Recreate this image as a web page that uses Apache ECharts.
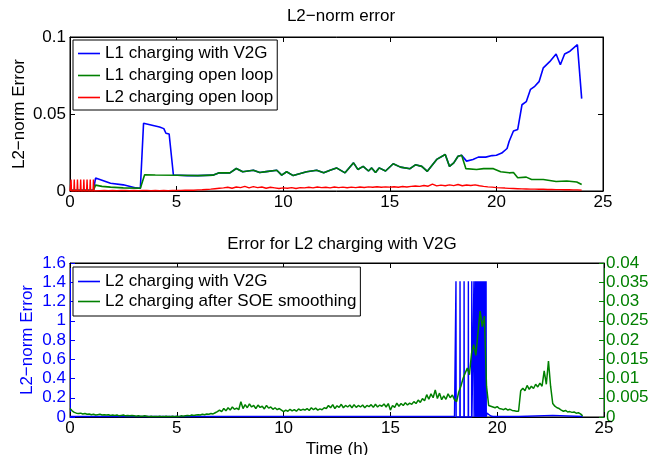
<!DOCTYPE html>
<html>
<head>
<meta charset="utf-8">
<script src="https://cdn.jsdelivr.net/npm/echarts@6/dist/echarts.min.js"></script>
<style>
html,body{margin:0;padding:0;background:#fff;}
#chart{width:661px;height:455px;}
</style>
</head>
<body>
<div id="chart"></div>
<script>
// ---- top panel: L2-norm error ----
let l1V2gT = [0,1.1,1.2,1.5,1.9,2.5,3.1,3.3,3.45,4.2, 4.4,4.5,4.65,4.85,5.5,6.0,6.7,7.0,7.5,7.8,
    8.1,8.6,8.9,9.2,9.7,9.93,10.16,10.47,11.1,11.57, 11.9,12.2,12.5,12.9,13.3,13.5,13.75,14.0,14.15,14.33,
    14.5,14.8,15.16,15.5,15.95,16.2,16.5,16.76,17.2,17.6, 17.8,18.0,18.2,18.37,18.6,18.9,19.15,19.5,19.8,20.0,
    20.25,20.5,20.6,20.8,21.0,21.2,21.4,21.6,21.8,22.0, 22.2,22.5,22.8,23.0,23.2,23.45,23.8,24.0];
let l1V2gV = [0.0005,0.0005,0.0084,0.007,0.005,0.004,0.002,0.0018,0.044,0.0416, 0.0405,0.0375,0.037,0.0104,0.010,0.010,0.0103,0.0118,0.0118,0.0146,
    0.0125,0.0135,0.012,0.0126,0.0135,0.0103,0.0125,0.010,0.0125,0.0135, 0.0118,0.0135,0.015,0.0118,0.0183,0.014,0.016,0.013,0.015,0.012,
    0.015,0.013,0.0177,0.0155,0.0145,0.017,0.016,0.0128,0.0205,0.0237, 0.016,0.0183,0.0226,0.0232,0.0194,0.0205,0.022,0.022,0.023,0.0232,
    0.0246,0.0276,0.0323,0.039,0.040,0.056,0.058,0.066,0.068,0.071, 0.080,0.084,0.089,0.082,0.089,0.0908,0.095,0.060];

let l1OpenT = [0,1.1,1.2,1.5,1.9,2.5,3.3,3.5,4.0,5.0, 6.0,6.7,7.0,7.5,7.8,8.1,8.6,8.9,9.2,9.7,
    9.93,10.16,10.47,11.1,11.57,11.9,12.2,12.5,12.9,13.3, 13.5,13.75,14.0,14.15,14.33,14.5,14.8,15.16,15.5,15.95,
    16.2,16.5,16.76,17.2,17.6,17.8,18.0,18.2,18.37,18.57, 19.07,19.4,19.86,20.2,20.6,20.8,21.0,21.4,21.65,22.2,
    22.8,23.3,23.77,24.0];
let l1OpenV = [0.0005,0.0005,0.0038,0.003,0.0025,0.002,0.0018,0.0106,0.0104,0.0102, 0.0100,0.0103,0.0118,0.0118,0.0146,0.0125,0.0135,0.012,0.0126,0.0135,
    0.0103,0.0125,0.010,0.0125,0.0135,0.0118,0.0135,0.015,0.0118,0.0183, 0.014,0.016,0.013,0.015,0.012,0.015,0.013,0.0177,0.0155,0.0145,
    0.017,0.016,0.0128,0.0205,0.0237,0.016,0.0183,0.0226,0.0232,0.0145, 0.014,0.0145,0.0145,0.0125,0.0118,0.012,0.0086,0.009,0.0075,0.0075,
    0.0062,0.0065,0.0058,0.0042];

// L2 open loop: early on/off pulses, then samples every 0.2 h from 1.2 h
let l2PulseT = [0.05,0.2,0.35,0.5,0.65,0.8,0.95,1.1];
let l2PulseV = [0.0075,0.0075,0.0075,0.0075,0.0075,0.0075,0.0075,0.0075];
let l2OpenStart = 1.2, l2OpenStep = 0.2;
let l2OpenV = [
    0.0003,0.0002,0.0003,0.0002,0.0003,0.0002,0.0003,0.0003,0.0002,0.0003,
    0.0002,0.0003,0.0003,0.0002,0.0003,0.0002,0.0003,0.0002,0.0003,0.0003,
    0.0004,0.0005,0.0006,0.0005,0.0007,0.0008,0.0010,0.0012,0.0015,0.0018,
    0.0020,0.0024,0.0018,0.0026,0.0022,0.0030,0.0020,0.0028,0.0022,0.0026,0.0018,0.0024,0.0020,0.0016,0.0020,
    0.0018,0.0022,0.0016,0.0022,0.0020,0.0024,0.0020,0.0026,0.0022,0.0024,0.0020,0.0026,0.0022,0.0025,0.0021,
    0.0025,0.0022,0.0026,0.0023,0.0027,0.0024,0.0028,0.0024,0.0027,0.0025,0.0028,0.0024,0.0029,0.0026,0.0030,
    0.0032,0.0030,0.0036,0.0031,0.0045,0.0033,0.0038,0.0034,0.0040,0.0035,0.0042,0.0034,0.0039,0.0036,0.0040,
    0.0034,0.0030,0.0027,0.0025,0.0022,0.0020,0.0019,0.0017,0.0016,0.0015,0.0014,0.0013,0.0012,0.0012,0.0011,
    0.0011,0.0010,0.0010,0.0009,0.0009,0.0008,0.0008,0.0007,0.0007,0.0006];

// ---- bottom panel: Error for L2 charging with V2G ----
let v2gBaseT = [0,18.0];
let v2gBaseV = [0.005,0.005];
let v2gSpikeT = [18.07,18.26,18.45,18.65,18.81,18.91,18.98,19.03,19.08,19.12,19.16,19.2,19.24,19.28,19.32,19.36,19.4,19.44,19.48];
let v2gSpikeTop = 1.41;
let v2gTailT = [19.52,19.6,19.7,19.8,21.0,21.05,22.6,22.65,24.0];
let v2gTailV = [0.04,0.03,0.01,0.005,0.005,0.017,0.017,0.005,0.005];

let smoothStart = 0, smoothStep = 0.1;
let smoothV = [
    0.0022,0.0016,0.0012,0.0010,0.0009,0.0010,0.0008,0.0009,0.0007,0.0008,
    0.0006,0.0007,0.0005,0.0006,0.0007,0.0005,0.0006,0.0005,0.0006,0.0004,
    0.0005,0.0004,0.0005,0.0003,0.0004,0.0005,0.0003,0.0004,0.0003,0.0004,
    0.0003,0.0002,0.0003,0.0002,0.0002,0.0003,0.0002,0.0001,0.0002,0.0001,
    0.0001,0.0001,0.0002,0.0001,0.0001,0.0002,0.0001,0.0001,0.0002,0.0001,
    0.0002,0.0001,0.0003,0.0002,0.0003,0.0004,0.0003,0.0005,0.0004,0.0005,
    0.0006,0.0005,0.0007,0.0006,0.0008,0.0007,0.0009,0.0008,0.0011,0.0014,
    0.0018,0.0014,0.0022,0.0016,0.0024,0.0018,0.0026,0.0020,0.0023,0.0019,
    0.0040,0.0022,0.0032,0.0024,0.0034,0.0026,0.0030,0.0022,0.0031,0.0025,
    0.0028,0.0021,0.0030,0.0023,0.0026,0.0020,0.0024,0.0019,0.0022,0.0018,
    0.0014,0.0018,0.0015,0.0020,0.0016,0.0019,0.0015,0.0021,0.0017,0.0020,
    0.0018,0.0022,0.0017,0.0024,0.0019,0.0023,0.0018,0.0021,0.0019,0.0024,
    0.0022,0.0030,0.0024,0.0032,0.0022,0.0029,0.0025,0.0033,0.0024,0.0030,
    0.0026,0.0031,0.0024,0.0032,0.0025,0.0030,0.0026,0.0031,0.0024,0.0030,
    0.0027,0.0032,0.0025,0.0033,0.0026,0.0031,0.0028,0.0034,0.0026,0.0035,
    0.0018,0.0030,0.0025,0.0036,0.0028,0.0035,0.0030,0.0037,0.0031,0.0036,
    0.0033,0.0040,0.0035,0.0044,0.0038,0.0048,0.0042,0.0058,0.0046,0.0060,
    0.0050,0.0070,0.0048,0.0062,0.0045,0.0055,0.0046,0.0060,0.0050,0.0057,
    0.0045,0.0040,0.0065,0.0080,0.0100,0.0114,0.0127,0.0110,0.0166,0.0188,
    0.0160,0.0218,0.0275,0.0235,0.0262,0.0080,0.0030,0.0028,0.0026,0.0024,
    0.0027,0.0022,0.0021,0.0019,0.0022,0.0018,0.0020,0.0017,0.0016,0.0015,
    0.0015,0.0068,0.0075,0.0068,0.0082,0.0072,0.0080,0.0074,0.0085,0.0078,
    0.0088,0.0080,0.0120,0.0085,0.0145,0.0080,0.0035,0.0028,0.0024,0.0022,
    0.0018,0.0015,0.0017,0.0013,0.0014,0.0012,0.0013,0.0010,0.0011,0.0008,
    0.0003];

let xTicks = {min:0, max:25, interval:5};

let FONT = 'Liberation Sans, Arial, Helvetica, sans-serif';
let BLUE = '#0000ff', GREEN = '#008000', RED = '#ff0000';

function pairs(ts, vs){ return ts.map((t,i) => [t, vs[i]]); }
function sampled(start, step, vs){ return vs.map((v,i) => [+(start + i*step).toFixed(2), v]); }
function pulses(ts, tops, base, w){
    let out = [];
    ts.forEach(function(t,i){
        let top = Array.isArray(tops) ? tops[i] : tops;
        out.push([t - w, base], [t, top], [t + w, base]);
    });
    return out;
}

let l2OpenData = [[0,0]].concat(pulses(l2PulseT, l2PulseV, 0, 0.02), sampled(l2OpenStart, l2OpenStep, l2OpenV));
let v2gData = pairs(v2gBaseT, v2gBaseV).concat(pulses(v2gSpikeT, v2gSpikeTop, 0, 0.008), pairs(v2gTailT, v2gTailV));

function xAxis(grid, pos, showLabels, extra){
    return Object.assign({
        gridIndex: grid, type: 'value', position: pos,
        min: xTicks.min, max: xTicks.max, interval: xTicks.interval,
        axisLine: {onZero: false, lineStyle: {color: '#000', width: 1}},
        axisTick: {inside: true, length: 5, lineStyle: {color: '#000'}},
        axisLabel: {show: showLabels, color: '#000', fontSize: 17, fontFamily: FONT, margin: 3},
        splitLine: {show: false}
    }, extra || {});
}
function yAxis(grid, pos, min, max, interval, color, showLabels, extra){
    return Object.assign({
        gridIndex: grid, type: 'value', position: pos,
        min: min, max: max, interval: interval,
        axisLine: {show: true, onZero: false, lineStyle: {color: color, width: 1}},
        axisTick: {show: true, inside: true, length: 5, lineStyle: {color: color}},
        axisLabel: {show: showLabels, color: color, fontSize: 17, fontFamily: FONT, margin: 4},
        splitLine: {show: false}
    }, extra || {});
}

// plain line swatch in the legend, like the MATLAB one
function legendItems(names, colors){
    return names.map((n,i) => ({name: n, icon: 'rect', itemStyle: {color: colors[i]}}));
}

let chart = echarts.init(document.getElementById('chart'), null, {renderer: 'canvas'});

let option = {
    backgroundColor: '#fff',
    animation: false,
    textStyle: {fontFamily: FONT},
    title: [
        {text: 'L2\u2212norm error', left: 336, top: 3, textAlign: 'center',
         textStyle: {fontSize: 17, fontWeight: 'normal', color: '#000', fontFamily: FONT}},
        {text: 'Error for L2 charging with V2G', left: 337, top: 231, textAlign: 'center',
         textStyle: {fontSize: 17, fontWeight: 'normal', color: '#000', fontFamily: FONT}}
    ],
    grid: [
        {left: 70, top: 37, width: 533, height: 154, show: true, borderColor: '#000', borderWidth: 1,
         backgroundColor: '#fff', containLabel: false, outerBoundsMode: 'none'},
        {left: 70, top: 263, width: 534, height: 154, show: true, borderColor: '#000', borderWidth: 1,
         backgroundColor: '#fff', containLabel: false, outerBoundsMode: 'none'}
    ],
    xAxis: [
        xAxis(0, 'bottom', true),
        xAxis(0, 'top', false),
        xAxis(1, 'bottom', true, {name: 'Time (h)', nameLocation: 'middle', nameGap: 24,
            nameTextStyle: {color: '#000', fontSize: 17, fontFamily: FONT}}),
        xAxis(1, 'top', false)
    ],
    yAxis: [
        yAxis(0, 'left', 0, 0.1, 0.05, '#000', true, {name: 'L2\u2212norm Error', nameLocation: 'middle',
            nameGap: 42, nameRotate: 90, nameMoveOverlap: false,
            nameTextStyle: {color: '#000', fontSize: 17, fontFamily: FONT}}),
        yAxis(0, 'right', 0, 0.1, 0.05, '#000', false),
        yAxis(1, 'left', 0, 1.6, 0.2, BLUE, true, {name: 'L2\u2212norm Error', nameLocation: 'middle',
            nameGap: 34, nameRotate: 90, nameMoveOverlap: false,
            nameTextStyle: {color: BLUE, fontSize: 17, fontFamily: FONT}}),
        yAxis(1, 'right', 0, 0.04, 0.005, GREEN, true, {axisLabel: {color: GREEN, fontSize: 17, fontFamily: FONT, margin: 2}})
    ],
    legend: [
        {data: legendItems(['L1 charging with V2G', 'L1 charging open loop', 'L2 charging open loop'], [BLUE, GREEN, RED]),
         left: 73, top: 40, orient: 'vertical', backgroundColor: '#fff', borderColor: '#000', borderWidth: 1,
         borderRadius: 0, padding: [5, 4, 4, 5], itemWidth: 22, itemHeight: 1.6, itemGap: 5,
         textStyle: {fontSize: 17, lineHeight: 17, color: '#000', fontFamily: FONT}},
        {data: legendItems(['L2 charging with V2G', 'L2 charging after SOE smoothing'], [BLUE, GREEN]),
         left: 73, top: 267, orient: 'vertical', backgroundColor: '#fff', borderColor: '#000', borderWidth: 1,
         borderRadius: 0, padding: [6, 4, 6, 5], itemWidth: 22, itemHeight: 1.6, itemGap: 3,
         textStyle: {fontSize: 17, lineHeight: 17, color: '#000', fontFamily: FONT}}
    ],
    series: [
        {name: 'L1 charging with V2G', type: 'line', xAxisIndex: 0, yAxisIndex: 0, data: pairs(l1V2gT, l1V2gV),
         symbol: 'none', lineStyle: {color: BLUE, width: 1.6}, itemStyle: {color: BLUE}},
        {name: 'L1 charging open loop', type: 'line', xAxisIndex: 0, yAxisIndex: 0, data: pairs(l1OpenT, l1OpenV),
         symbol: 'none', lineStyle: {color: GREEN, width: 1.6}, itemStyle: {color: GREEN}},
        {name: 'L2 charging open loop', type: 'line', xAxisIndex: 0, yAxisIndex: 0, data: l2OpenData,
         symbol: 'none', lineStyle: {color: RED, width: 1.4}, itemStyle: {color: RED}},
        {name: 'L2 charging with V2G', type: 'line', xAxisIndex: 2, yAxisIndex: 2, data: v2gData,
         symbol: 'none', lineStyle: {color: BLUE, width: 1.4}, itemStyle: {color: BLUE}},
        {name: 'L2 charging after SOE smoothing', type: 'line', xAxisIndex: 2, yAxisIndex: 3,
         data: sampled(smoothStart, smoothStep, smoothV),
         symbol: 'none', lineStyle: {color: GREEN, width: 1.5}, itemStyle: {color: GREEN}}
    ]
};

chart.setOption(option);
</script>
</body>
</html>
